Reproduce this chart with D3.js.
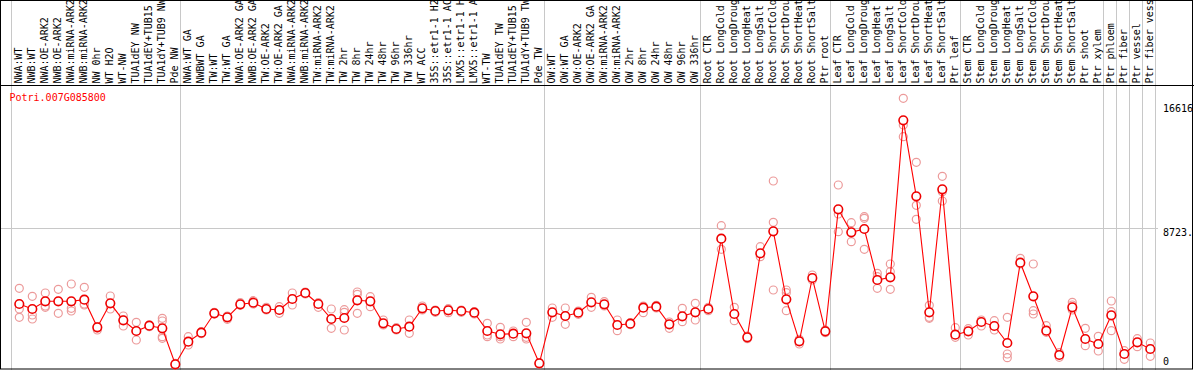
<!DOCTYPE html>
<html>
<head>
<meta charset="utf-8">
<script src="https://cdn.jsdelivr.net/npm/d3@7"></script>
<style>
  body { margin: 0; background: #fff; }
  svg text { font-family: "DejaVu Sans Mono", monospace; font-size: 10px; }
</style>
</head>
<body>
<div id="chart"></div>
<script>
const geneId = "Potri.007G085800";

const categories = [
  "NWA:WT", "NWB:WT", "NWA:OE-ARK2", "NWB:OE-ARK2", "NWA:miRNA-ARK2", "NWB:miRNA-ARK2",
  "NW 0hr", "WT H2O", "WT-NW", "TUA1dEY NW", "TUA1dEY+TUB15 NW", "TUA1dY+TUB9 NW", "Pde NW",
  "NWA:WT GA", "NWBWT GA", "TW:WT", "TW:WT GA", "NWA:OE-ARK2 GA", "NWB:OE-ARK2 GA",
  "TW:OE-ARK2", "TW:OE-ARK2 GA", "NWA:miRNA-ARK2", "NWB:miRNA-ARK2", "TW:miRNA-ARK2",
  "TW:miRNA-ARK2", "TW 2hr", "TW 8hr", "TW 24hr", "TW 48hr", "TW 96hr", "TW 336hr", "WT ACC",
  "35S::etr1-1 H2O", "35S::etr1-1 ACC", "LMX5::etr1-1 H2O", "LMX5::etr1-1 ACC", "WT-TW",
  "TUA1dEY TW", "TUA1dEY+TUB15 TW", "TUA1dY+TUB9 TW", "Pde TW",
  "OW:WT", "OW:WT GA", "OW:OE-ARK2", "OW:OE-ARK2 GA", "OW:miRNA-ARK2", "OW:miRNA-ARK2",
  "OW 2hr", "OW 8hr", "OW 24hr", "OW 48hr", "OW 96hr", "OW 336hr",
  "Root CTR", "Root LongCold", "Root LongDrought", "Root LongHeat", "Root LongSalt",
  "Root ShortCold", "Root ShortDrought", "Root ShortHeat", "Root ShortSalt", "Ptr root",
  "Leaf CTR", "Leaf LongCold", "Leaf LongDrought", "Leaf LongHeat", "Leaf LongSalt",
  "Leaf ShortCold", "Leaf ShortDrought", "Leaf ShortHeat", "Leaf ShortSalt", "Ptr leaf",
  "Stem CTR", "Stem LongCold", "Stem LongDrought", "Stem LongHeat", "Stem LongSalt",
  "Stem ShortCold", "Stem ShortDrought", "Stem ShortHeat", "Stem ShortSalt", "Ptr shoot", "Ptr xylem",
  "Ptr phloem", "Ptr fiber", "Ptr vessel", "Ptr fiber vessel"
];

// number of categories in each block between grey separators
const groupSizes = [13, 28, 12, 10, 10, 11, 1, 1, 1, 1];

// mean expression per category
const means = [
  3928, 3611, 4099, 4099, 4099, 4200, 2452, 3972, 2895, 2217, 2553, 2388, 108,
  1539, 2110, 3338, 3085, 3909, 4010, 3611, 3548, 4244, 4625, 3928, 2977, 3041, 4162, 4099,
  2705, 2344, 2490, 3655, 3484, 3529, 3484, 3377, 2217, 2008, 2046, 2072, 171,
  3402, 3168, 3377, 4035, 3909, 2597, 2680, 3693, 3757, 2642, 3148, 3402,
  3611, 8064, 3294, 1818, 7139, 8533, 4225, 1565, 5575, 2198,
  9927, 8470, 8679, 5448, 5619, 15565, 10750, 3402, 11194, 1983,
  2198, 2787, 2534, 1457, 6544, 4415, 2236, 697, 3719, 1710, 1394,
  3212, 760, 1501, 1077
];

// individual replicate values per category
const replicates = [
  [4922, 3611, 3085], [4416, 3231, 2977], [4625, 3801, 3719], [4859, 4099, 3339],
  [5195, 3655, 3484], [4986, 3864, 3928], [2502, 2407, 2281], [4435, 3972, 3611],
  [3168, 2914, 2534], [2768, 2217, 1647], [2597, 2534, 2490], [3022, 2851, 1856, 1755],
  [171, 63],
  [1856, 1330, 1539], [2173, 2046], [3402, 3294], [3168, 2958], [4010, 3845], [4137, 3928],
  [3719, 3548], [3757, 3339], [4625, 3864], [4688, 4561], [4010, 3719], [3611, 2977, 2388],
  [3567, 3402, 2281], [4688, 4542, 3339], [4390, 4099, 3757], [2914, 2597], [2426, 2281],
  [2914, 2490, 2072], [3801, 3548], [3548, 3402], [3630, 3377], [3548, 3402], [3440, 3294],
  [2705, 1964, 1856], [2452, 1856, 1710], [2217, 1856], [2768, 1818, 1710], [209, 127],
  [3674, 3085], [3674, 2642, 3168], [3484, 3275], [4352, 3719], [4073, 3801], [2914, 2236],
  [2743, 2616], [3801, 3377], [3845, 3674], [2787, 2388], [3655, 2806], [3972, 2914],
  [3719, 3503], [8888, 8064, 7393], [3719, 2870], [1900, 1729], [7558, 6924],
  [11720, 9103, 4815], [4815, 4644, 3503], [1691, 1394], [5765, 5448], [2281, 2110],
  [11466, 9629, 8508], [9078, 8470, 7875], [9458, 9357, 7393], [5873, 5657, 4922],
  [6462, 5974, 4859], [16959, 15267, 14526], [12904, 10180, 9293], [3845, 3085, 3022],
  [12018, 11042, 10453], [2426, 1818],
  [2363, 1964], [2914, 2534], [2870, 2281], [3085, 760, 526], [6823, 6462],
  [6462, 3503, 3294], [2553, 2135], [843, 551], [4035, 3864, 3548], [2388, 1286], [1881, 950],
  [4118, 3440, 2236], [969, 424], [1729, 1223], [1457, 614]
];

const yTickValues = [0, 8723, 16616];
const yTickLabels = ["0", "8723.", "16616"];

const width = 1194;
const height = 370;
const labelBottom = 85.5;   // black rule under the rotated labels
const plotRight = 1155.5;

const svg = d3.select("#chart").append("svg")
  .attr("width", width)
  .attr("height", height);

// x: one 13px band per category
const x = d3.scaleBand()
  .domain(d3.range(categories.length))
  .range([12.8, 12.8 + categories.length * 13]);
const cx = (i) => x(i) + x.bandwidth() / 2;

// y: linear, zero sits just above the bottom frame
const y = d3.scaleLinear().domain([0, 8723]).range([366, 228.3]);

// horizontal grid line at the middle tick
svg.append("line")
  .attr("x1", 0).attr("x2", 1158)
  .attr("y1", Math.round(y(8723)) + 0.5).attr("y2", Math.round(y(8723)) + 0.5)
  .attr("stroke", "#c8c8c8");

// grey separators between sample blocks
let starts = [0];
groupSizes.forEach((n) => starts.push(starts[starts.length - 1] + n));
svg.selectAll(".sep")
  .data(starts)
  .enter()
  .append("line")
  .attr("class", "sep")
  .attr("x1", (d) => Math.round((d < categories.length ? x(d) : x(d - 1) + 13) - 1.5) + 0.5)
  .attr("x2", (d) => Math.round((d < categories.length ? x(d) : x(d - 1) + 13) - 1.5) + 0.5)
  .attr("y1", 0).attr("y2", height)
  .attr("stroke", "#c8c8c8");

// rotated category labels
svg.selectAll(".cat")
  .data(categories)
  .enter()
  .append("text")
  .attr("class", "cat")
  .attr("transform", (d, i) => `translate(${cx(i) + 2.7},83.5) rotate(-90)`)
  .attr("fill", "black")
  .text((d) => d);

// rule under the labels and outer frame
svg.append("line")
  .attr("x1", 0).attr("x2", width)
  .attr("y1", labelBottom).attr("y2", labelBottom)
  .attr("stroke", "black");
svg.append("rect")
  .attr("x", 0.5).attr("y", 0.5)
  .attr("width", width - 2).attr("height", height - 1.5)
  .attr("fill", "none")
  .attr("stroke", "black");

// gene id
svg.append("text")
  .attr("x", 9.5).attr("y", 100.5)
  .attr("fill", "#ff0000")
  .text(geneId);

// y tick labels on the right
svg.selectAll(".ytick")
  .data(yTickValues)
  .enter()
  .append("text")
  .attr("class", "ytick")
  .attr("x", 1163)
  .attr("y", (d) => (d === 0 ? y(d) - 1 : y(d) + 8))
  .attr("fill", "black")
  .text((d, i) => yTickLabels[i]);

// replicate points
const repPoints = [];
replicates.forEach((vals, i) => vals.forEach((v) => repPoints.push({ i, v })));
svg.selectAll(".rep")
  .data(repPoints)
  .enter()
  .append("circle")
  .attr("class", "rep")
  .attr("cx", (d) => cx(d.i))
  .attr("cy", (d) => y(d.v))
  .attr("r", 4)
  .attr("fill", "none")
  .attr("stroke", "#ec9a9a")
  .attr("stroke-width", 1.2);

// mean line
const line = d3.line()
  .x((d, i) => cx(i))
  .y((d) => y(d));
svg.append("path")
  .datum(means)
  .attr("d", line)
  .attr("fill", "none")
  .attr("stroke", "#ff0000")
  .attr("stroke-width", 1.1);

// mean markers
svg.selectAll(".mean")
  .data(means)
  .enter()
  .append("circle")
  .attr("class", "mean")
  .attr("cx", (d, i) => cx(i))
  .attr("cy", (d) => y(d))
  .attr("r", 4.3)
  .attr("fill", "white")
  .attr("stroke", "#ee0000")
  .attr("stroke-width", 1.6);
</script>
</body>
</html>
